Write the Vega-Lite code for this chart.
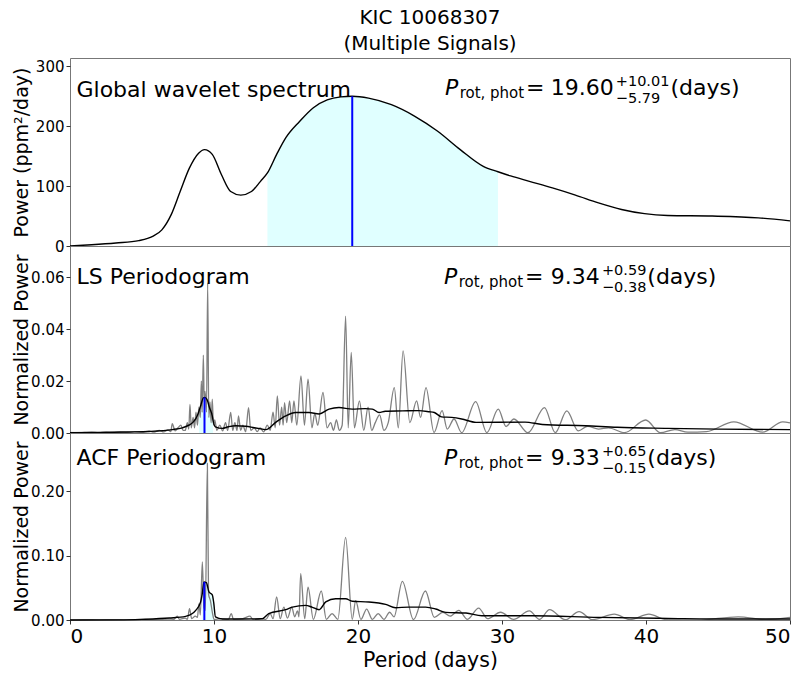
{
  "$schema": "https://vega.github.io/schema/vega-lite/v6.json",
  "padding": {"left": 11, "top": 7, "right": 10, "bottom": 5},
  "background": "white",
  "config": {
    "view": {"stroke": "#777", "strokeWidth": 1},
    "font": "DejaVu Sans",
    "axis": {"labelFont": "DejaVu Sans", "titleFont": "DejaVu Sans", "labelColor": "black", "titleColor": "black", "tickColor": "#333", "domain": false, "grid": false, "titleFontWeight": "normal"},
    "text": {"font": "DejaVu Sans", "color": "black", "align": "left", "baseline": "alphabetic"}
  },
  "datasets": {
    "one": [{}],
    "gws": [
      {"period": 0, "power": 0}, {"period": 1.5, "power": 2}, {"period": 3.19, "power": 5}, {"period": 4.78, "power": 9}, {"period": 5.74, "power": 16},
      {"period": 6.38, "power": 27}, {"period": 7.02, "power": 52}, {"period": 7.65, "power": 91}, {"period": 8.29, "power": 130}, {"period": 8.93, "power": 155},
      {"period": 9.34, "power": 161}, {"period": 9.88, "power": 153}, {"period": 10.52, "power": 119}, {"period": 11.16, "power": 91}, {"period": 11.86, "power": 85},
      {"period": 12.6, "power": 91}, {"period": 13.23, "power": 108}, {"period": 13.71, "power": 122}, {"period": 14.35, "power": 153}, {"period": 14.99, "power": 181},
      {"period": 15.94, "power": 208}, {"period": 16.9, "power": 231}, {"period": 17.86, "power": 244}, {"period": 18.81, "power": 249}, {"period": 19.6, "power": 250},
      {"period": 20.73, "power": 247}, {"period": 22.32, "power": 236}, {"period": 23.92, "power": 217}, {"period": 25.51, "power": 192}, {"period": 27.1, "power": 161},
      {"period": 28.7, "power": 133}, {"period": 29.72, "power": 124}, {"period": 30.6, "power": 117}, {"period": 31.9, "power": 108}, {"period": 33.5, "power": 97},
      {"period": 35.1, "power": 85}, {"period": 36.7, "power": 72}, {"period": 38.3, "power": 61}, {"period": 39.9, "power": 54}, {"period": 41.5, "power": 51},
      {"period": 44.6, "power": 50}, {"period": 47.8, "power": 47}, {"period": 50, "power": 42}
    ],
    "ls_raw": [
      {"period": 0, "power": 0.0002}, {"period": 0.5, "power": 0.0001}, {"period": 1, "power": 0.0002}, {"period": 1.5, "power": 0.0003}, {"period": 2, "power": 0.0001},
      {"period": 2.5, "power": 0.0003}, {"period": 3, "power": 0.0002}, {"period": 3.5, "power": 0.0004}, {"period": 4, "power": 0.0002}, {"period": 4.5, "power": 0.0005},
      {"period": 5, "power": 0.0003}, {"period": 5.5, "power": 0.0007}, {"period": 5.8, "power": 0.0003}, {"period": 6.2, "power": 0.001}, {"period": 6.5, "power": 0.0004},
      {"period": 6.8, "power": 0.0012}, {"period": 7.0, "power": 0.0005}, {"period": 7.1, "power": 0.0036}, {"period": 7.3, "power": 0.0008}, {"period": 7.5, "power": 0.002},
      {"period": 7.7, "power": 0.003}, {"period": 7.85, "power": 0.001}, {"period": 8.0, "power": 0.001}, {"period": 8.15, "power": 0.004}, {"period": 8.25, "power": 0.0015},
      {"period": 8.33, "power": 0.011}, {"period": 8.42, "power": 0.002}, {"period": 8.55, "power": 0.006}, {"period": 8.65, "power": 0.002}, {"period": 8.75, "power": 0.008},
      {"period": 8.85, "power": 0.003}, {"period": 8.95, "power": 0.01}, {"period": 9.05, "power": 0.006}, {"period": 9.12, "power": 0.02}, {"period": 9.18, "power": 0.008},
      {"period": 9.26, "power": 0.03}, {"period": 9.32, "power": 0.012}, {"period": 9.38, "power": 0.016}, {"period": 9.48, "power": 0.008}, {"period": 9.56, "power": 0.0578},
      {"period": 9.64, "power": 0.006}, {"period": 9.72, "power": 0.012}, {"period": 9.8, "power": 0.004}, {"period": 9.88, "power": 0.013}, {"period": 9.96, "power": 0.003},
      {"period": 10.05, "power": 0.005}, {"period": 10.2, "power": 0.001}, {"period": 10.4, "power": 0.003}, {"period": 10.6, "power": 0.0008}, {"period": 10.8, "power": 0.004},
      {"period": 10.95, "power": 0.001}, {"period": 11.16, "power": 0.0079}, {"period": 11.3, "power": 0.001}, {"period": 11.45, "power": 0.004}, {"period": 11.6, "power": 0.001},
      {"period": 11.7, "power": 0.0066}, {"period": 11.85, "power": 0.001}, {"period": 12.0, "power": 0.003}, {"period": 12.2, "power": 0.0005}, {"period": 12.4, "power": 0.0098},
      {"period": 12.55, "power": 0.001}, {"period": 12.8, "power": 0.002}, {"period": 13.0, "power": 0.0005}, {"period": 13.2, "power": 0.002}, {"period": 13.45, "power": 0.0004},
      {"period": 13.7, "power": 0.003}, {"period": 13.9, "power": 0.001}, {"period": 14.1, "power": 0.008}, {"period": 14.25, "power": 0.002}, {"period": 14.4, "power": 0.0143},
      {"period": 14.55, "power": 0.003}, {"period": 14.7, "power": 0.01}, {"period": 14.8, "power": 0.003}, {"period": 14.9, "power": 0.0117}, {"period": 15.05, "power": 0.004},
      {"period": 15.25, "power": 0.0124}, {"period": 15.4, "power": 0.004}, {"period": 15.55, "power": 0.0124}, {"period": 15.75, "power": 0.003}, {"period": 16.04, "power": 0.022},
      {"period": 16.28, "power": 0.003}, {"period": 16.53, "power": 0.0207}, {"period": 16.8, "power": 0.002}, {"period": 17.0, "power": 0.0075}, {"period": 17.2, "power": 0.003},
      {"period": 17.57, "power": 0.0156}, {"period": 17.85, "power": 0.002}, {"period": 18.1, "power": 0.004}, {"period": 18.3, "power": 0.001}, {"period": 18.5, "power": 0.005},
      {"period": 18.7, "power": 0.001}, {"period": 18.9, "power": 0.003}, {"period": 19.14, "power": 0.045}, {"period": 19.32, "power": 0.002}, {"period": 19.53, "power": 0.031},
      {"period": 19.75, "power": 0.002}, {"period": 20.1, "power": 0.0124}, {"period": 20.4, "power": 0.001}, {"period": 20.7, "power": 0.01}, {"period": 20.95, "power": 0.001},
      {"period": 21.2, "power": 0.004}, {"period": 21.5, "power": 0.007}, {"period": 21.8, "power": 0.001}, {"period": 22.1, "power": 0.004}, {"period": 22.52, "power": 0.0175},
      {"period": 22.8, "power": 0.002}, {"period": 23.13, "power": 0.0316}, {"period": 23.6, "power": 0.004}, {"period": 24.07, "power": 0.0124}, {"period": 24.35, "power": 0.006},
      {"period": 24.72, "power": 0.0175}, {"period": 25.28, "power": 0.0002}, {"period": 25.84, "power": 0.0086}, {"period": 26.2, "power": 0.0015}, {"period": 26.67, "power": 0.0054},
      {"period": 27.2, "power": 0.0001}, {"period": 28.17, "power": 0.0121}, {"period": 28.95, "power": 0.0001}, {"period": 29.74, "power": 0.0092}, {"period": 30.28, "power": 0.0025},
      {"period": 30.83, "power": 0.0054}, {"period": 31.8, "power": 0.0001}, {"period": 32.95, "power": 0.0098}, {"period": 33.7, "power": 0.0001}, {"period": 34.5, "power": 0.0085},
      {"period": 35.3, "power": 0.0008}, {"period": 35.95, "power": 0.0026}, {"period": 36.7, "power": 0.0015}, {"period": 37.4, "power": 0.002}, {"period": 38.5, "power": 0.0001},
      {"period": 39.98, "power": 0.005}, {"period": 41.0, "power": 0.0001}, {"period": 42.0, "power": 0.0013}, {"period": 42.9, "power": 0.0003}, {"period": 44.2, "power": 0.0005},
      {"period": 46.1, "power": 0.0043}, {"period": 48.1, "power": 0.0003}, {"period": 49.5, "power": 0.0043}, {"period": 50, "power": 0.0039}
    ],
    "ls_smooth": [
      {"period": 0, "power": 0.0001}, {"period": 2, "power": 0.0002}, {"period": 4, "power": 0.0004}, {"period": 5.5, "power": 0.0006}, {"period": 7.1, "power": 0.0013},
      {"period": 7.8, "power": 0.002}, {"period": 8.26, "power": 0.003}, {"period": 8.6, "power": 0.0045}, {"period": 8.84, "power": 0.0066}, {"period": 8.96, "power": 0.0085},
      {"period": 9.1, "power": 0.011}, {"period": 9.25, "power": 0.0135}, {"period": 9.34, "power": 0.0137}, {"period": 9.5, "power": 0.013}, {"period": 9.7, "power": 0.0095},
      {"period": 9.88, "power": 0.0066}, {"period": 9.93, "power": 0.005}, {"period": 10.1, "power": 0.0024}, {"period": 10.58, "power": 0.0018}, {"period": 11.0, "power": 0.0024},
      {"period": 11.5, "power": 0.0028}, {"period": 12.2, "power": 0.0026}, {"period": 12.8, "power": 0.002}, {"period": 13.36, "power": 0.0015}, {"period": 13.6, "power": 0.0013},
      {"period": 14.28, "power": 0.0041}, {"period": 14.98, "power": 0.0066}, {"period": 15.67, "power": 0.0079}, {"period": 16.6, "power": 0.0079}, {"period": 17.3, "power": 0.0073},
      {"period": 17.99, "power": 0.0092}, {"period": 18.68, "power": 0.0098}, {"period": 19.6, "power": 0.0092}, {"period": 20.5, "power": 0.0094}, {"period": 21.0, "power": 0.0092},
      {"period": 21.46, "power": 0.0079}, {"period": 21.9, "power": 0.0084}, {"period": 23.1, "power": 0.0085}, {"period": 24.2, "power": 0.0086}, {"period": 24.93, "power": 0.0082},
      {"period": 25.3, "power": 0.0079}, {"period": 25.8, "power": 0.0062}, {"period": 26.5, "power": 0.006}, {"period": 27.2, "power": 0.0054}, {"period": 28.2, "power": 0.0041},
      {"period": 31.6, "power": 0.0042}, {"period": 32.8, "power": 0.0033}, {"period": 35.8, "power": 0.0028}, {"period": 38, "power": 0.0022}, {"period": 41.5, "power": 0.0018},
      {"period": 45, "power": 0.0015}, {"period": 50, "power": 0.0013}
    ],
    "acf_raw": [
      {"period": 0, "power": 0.0}, {"period": 1, "power": 0.0005}, {"period": 2, "power": 0.0002}, {"period": 3, "power": 0.0006}, {"period": 4, "power": 0.0003},
      {"period": 5, "power": 0.0008}, {"period": 6, "power": 0.0005}, {"period": 6.8, "power": 0.0015}, {"period": 7.2, "power": 0.001}, {"period": 7.45, "power": 0.006},
      {"period": 7.6, "power": 0.001}, {"period": 8.0, "power": 0.003}, {"period": 8.15, "power": 0.001}, {"period": 8.3, "power": 0.0175}, {"period": 8.45, "power": 0.002},
      {"period": 8.7, "power": 0.006}, {"period": 8.85, "power": 0.004}, {"period": 8.95, "power": 0.025}, {"period": 9.05, "power": 0.008}, {"period": 9.19, "power": 0.09},
      {"period": 9.3, "power": 0.02}, {"period": 9.4, "power": 0.015}, {"period": 9.54, "power": 0.243}, {"period": 9.62, "power": 0.04}, {"period": 9.75, "power": 0.03},
      {"period": 9.9, "power": 0.01}, {"period": 10.0, "power": 0.001}, {"period": 10.5, "power": 0.002}, {"period": 11.0, "power": 0.001}, {"period": 11.2, "power": 0.01},
      {"period": 11.35, "power": 0.001}, {"period": 12.0, "power": 0.002}, {"period": 12.5, "power": 0.006}, {"period": 12.7, "power": 0.001}, {"period": 13.3, "power": 0.002},
      {"period": 13.6, "power": 0.001}, {"period": 13.9, "power": 0.01}, {"period": 14.1, "power": 0.002}, {"period": 14.35, "power": 0.0357}, {"period": 14.6, "power": 0.002},
      {"period": 14.85, "power": 0.02}, {"period": 15.1, "power": 0.003}, {"period": 15.4, "power": 0.02}, {"period": 15.6, "power": 0.005}, {"period": 15.8, "power": 0.014},
      {"period": 15.9, "power": 0.005}, {"period": 16.02, "power": 0.072}, {"period": 16.3, "power": 0.002}, {"period": 16.53, "power": 0.051}, {"period": 16.9, "power": 0.001},
      {"period": 17.45, "power": 0.045}, {"period": 17.8, "power": 0.001}, {"period": 18.2, "power": 0.01}, {"period": 18.6, "power": 0.001}, {"period": 19.14, "power": 0.128},
      {"period": 19.6, "power": 0.001}, {"period": 19.84, "power": 0.03}, {"period": 20.2, "power": 0.001}, {"period": 20.6, "power": 0.017}, {"period": 21.0, "power": 0.001},
      {"period": 21.4, "power": 0.01}, {"period": 21.8, "power": 0.001}, {"period": 22.2, "power": 0.012}, {"period": 22.5, "power": 0.005}, {"period": 23.08, "power": 0.06},
      {"period": 23.85, "power": 0.0005}, {"period": 24.68, "power": 0.045}, {"period": 25.3, "power": 0.004}, {"period": 25.9, "power": 0.012}, {"period": 26.4, "power": 0.006},
      {"period": 27.0, "power": 0.015}, {"period": 27.6, "power": 0.001}, {"period": 28.38, "power": 0.0185}, {"period": 29.0, "power": 0.002}, {"period": 29.9, "power": 0.012},
      {"period": 30.8, "power": 0.001}, {"period": 31.9, "power": 0.014}, {"period": 32.6, "power": 0.001}, {"period": 33.3, "power": 0.016}, {"period": 34.4, "power": 0.0005},
      {"period": 35.35, "power": 0.013}, {"period": 36.3, "power": 0.0005}, {"period": 37.8, "power": 0.009}, {"period": 38.9, "power": 0.0005}, {"period": 40.2, "power": 0.009},
      {"period": 41.4, "power": 0.0005}, {"period": 43.6, "power": 0.0}, {"period": 46.4, "power": 0.005}, {"period": 48.3, "power": 0.0005}, {"period": 50, "power": 0.004}
    ],
    "acf_smooth": [
      {"period": 0, "power": 0}, {"period": 3.4, "power": 0.0002}, {"period": 5, "power": 0.001}, {"period": 6.9, "power": 0.003}, {"period": 8.03, "power": 0.0056},
      {"period": 8.5, "power": 0.01}, {"period": 8.73, "power": 0.015}, {"period": 9.07, "power": 0.028}, {"period": 9.18, "power": 0.04}, {"period": 9.3, "power": 0.059},
      {"period": 9.47, "power": 0.058}, {"period": 9.65, "power": 0.0435}, {"period": 9.88, "power": 0.039}, {"period": 9.98, "power": 0.027}, {"period": 10.1, "power": 0.0047},
      {"period": 10.58, "power": 0.0015}, {"period": 12, "power": 0.0015}, {"period": 13.36, "power": 0.002}, {"period": 13.8, "power": 0.0098}, {"period": 14.98, "power": 0.016},
      {"period": 15.44, "power": 0.02}, {"period": 16.37, "power": 0.0227}, {"period": 16.8, "power": 0.02}, {"period": 17.3, "power": 0.016}, {"period": 17.76, "power": 0.028},
      {"period": 18.45, "power": 0.033}, {"period": 19.14, "power": 0.033}, {"period": 19.6, "power": 0.029}, {"period": 20.76, "power": 0.028}, {"period": 21.92, "power": 0.0243},
      {"period": 22.6, "power": 0.019}, {"period": 23.5, "power": 0.02}, {"period": 24.7, "power": 0.02}, {"period": 25.4, "power": 0.017}, {"period": 26.1, "power": 0.0118},
      {"period": 27.5, "power": 0.0108}, {"period": 28.6, "power": 0.0067}, {"period": 32.1, "power": 0.0067}, {"period": 36.7, "power": 0.004}, {"period": 41.5, "power": 0.0025},
      {"period": 46.1, "power": 0.0015}, {"period": 50, "power": 0.0015}
    ]
  },
  "vconcat": [
    {
      "width": 720, "height": 188,
      "title": {"text": ["KIC 10068307", "(Multiple Signals)"], "fontSize": 20, "font": "DejaVu Sans", "fontWeight": "normal", "color": "black", "anchor": "middle", "offset": 4, "lineHeight": 26},
      "layer": [
        {
          "data": {"name": "gws"},
          "transform": [{"filter": "datum.period >= 13.71 && datum.period <= 29.72"}],
          "mark": {"type": "area", "color": "#E0FFFF", "opacity": 1},
          "encoding": {
            "x": {"field": "period", "type": "quantitative", "scale": {"domain": [0, 50], "nice": false}, "axis": null},
            "y": {"field": "power", "type": "quantitative", "scale": {"domain": [0, 314], "nice": false}, "axis": {"title": "Power (ppm²/day)", "values": [0, 100, 200, 300], "labelFontSize": 15, "titleFontSize": 19, "tickSize": 4, "titleX": -43, "titleBaseline": "alphabetic"}}
          }
        },
        {
          "data": {"name": "gws"},
          "mark": {"type": "line", "color": "black", "strokeWidth": 1.4, "interpolate": "monotone"},
          "encoding": {"x": {"field": "period", "type": "quantitative"}, "y": {"field": "power", "type": "quantitative"}}
        },
        {
          "data": {"values": [{"period": 19.6, "base": 0, "power": 250}]},
          "mark": {"type": "rule", "color": "#0000FF", "strokeWidth": 2},
          "encoding": {"x": {"field": "period", "type": "quantitative"}, "y": {"field": "base", "type": "quantitative"}, "y2": {"field": "power"}}
        },
        {"data": {"name": "one"}, "mark": {"type": "text", "fontSize": 22}, "encoding": {"x": {"datum": 0.45, "type": "quantitative"}, "y": {"datum": 249, "type": "quantitative"}, "text": {"value": "Global wavelet spectrum"}}},
        {"data": {"name": "one"}, "mark": {"type": "text", "fontSize": 22, "fontStyle": "italic"}, "encoding": {"x": {"datum": 26.04, "type": "quantitative"}, "y": {"datum": 252, "type": "quantitative"}, "text": {"value": "P"}}},
        {"data": {"name": "one"}, "mark": {"type": "text", "fontSize": 15, "dy": 3}, "encoding": {"x": {"datum": 27.06, "type": "quantitative"}, "y": {"datum": 252, "type": "quantitative"}, "text": {"value": "rot, phot"}}},
        {"data": {"name": "one"}, "mark": {"type": "text", "fontSize": 22}, "encoding": {"x": {"datum": 31.67, "type": "quantitative"}, "y": {"datum": 252, "type": "quantitative"}, "text": {"value": "="}}},
        {"data": {"name": "one"}, "mark": {"type": "text", "fontSize": 22}, "encoding": {"x": {"datum": 33.38, "type": "quantitative"}, "y": {"datum": 252, "type": "quantitative"}, "text": {"value": "19.60"}}},
        {"data": {"name": "one"}, "mark": {"type": "text", "fontSize": 14.5, "dy": -9.3}, "encoding": {"x": {"datum": 37.9, "type": "quantitative"}, "y": {"datum": 252, "type": "quantitative"}, "text": {"value": "+10.01"}}},
        {"data": {"name": "one"}, "mark": {"type": "text", "fontSize": 14.5, "dy": 7.4}, "encoding": {"x": {"datum": 37.9, "type": "quantitative"}, "y": {"datum": 252, "type": "quantitative"}, "text": {"value": "−5.79"}}},
        {"data": {"name": "one"}, "mark": {"type": "text", "fontSize": 22}, "encoding": {"x": {"datum": 41.7, "type": "quantitative"}, "y": {"datum": 252, "type": "quantitative"}, "text": {"value": "(days)"}}}
      ]
    },
    {
      "width": 720, "height": 187,
      "layer": [
        {
          "data": {"name": "ls_smooth"},
          "transform": [{"filter": "datum.period >= 8.96 && datum.period <= 9.93"}],
          "mark": {"type": "area", "color": "#E0FFFF", "opacity": 1},
          "encoding": {
            "x": {"field": "period", "type": "quantitative", "scale": {"domain": [0, 50], "nice": false}, "axis": null},
            "y": {"field": "power", "type": "quantitative", "scale": {"domain": [0, 0.072], "nice": false}, "axis": {"title": "Normalized Power", "values": [0, 0.02, 0.04, 0.06], "format": ".2f", "labelFontSize": 15, "titleFontSize": 19, "tickSize": 4, "titleX": -43, "titleBaseline": "alphabetic"}}
          }
        },
        {
          "data": {"name": "ls_raw"},
          "mark": {"type": "line", "color": "#808080", "strokeWidth": 1.3, "interpolate": "monotone"},
          "encoding": {"x": {"field": "period", "type": "quantitative"}, "y": {"field": "power", "type": "quantitative"}}
        },
        {
          "data": {"name": "ls_smooth"},
          "mark": {"type": "line", "color": "black", "strokeWidth": 1.4, "interpolate": "monotone"},
          "encoding": {"x": {"field": "period", "type": "quantitative"}, "y": {"field": "power", "type": "quantitative"}}
        },
        {
          "data": {"values": [{"period": 9.34, "base": 0, "power": 0.0137}]},
          "mark": {"type": "rule", "color": "#0000FF", "strokeWidth": 2},
          "encoding": {"x": {"field": "period", "type": "quantitative"}, "y": {"field": "base", "type": "quantitative"}, "y2": {"field": "power"}}
        },
        {"data": {"name": "one"}, "mark": {"type": "text", "fontSize": 22}, "encoding": {"x": {"datum": 0.45, "type": "quantitative"}, "y": {"datum": 0.0574, "type": "quantitative"}, "text": {"value": "LS Periodogram"}}},
        {"data": {"name": "one"}, "mark": {"type": "text", "fontSize": 22, "fontStyle": "italic"}, "encoding": {"x": {"datum": 25.97, "type": "quantitative"}, "y": {"datum": 0.0572, "type": "quantitative"}, "text": {"value": "P"}}},
        {"data": {"name": "one"}, "mark": {"type": "text", "fontSize": 15, "dy": 3}, "encoding": {"x": {"datum": 26.99, "type": "quantitative"}, "y": {"datum": 0.0572, "type": "quantitative"}, "text": {"value": "rot, phot"}}},
        {"data": {"name": "one"}, "mark": {"type": "text", "fontSize": 22}, "encoding": {"x": {"datum": 31.6, "type": "quantitative"}, "y": {"datum": 0.0572, "type": "quantitative"}, "text": {"value": "="}}},
        {"data": {"name": "one"}, "mark": {"type": "text", "fontSize": 22}, "encoding": {"x": {"datum": 33.38, "type": "quantitative"}, "y": {"datum": 0.0572, "type": "quantitative"}, "text": {"value": "9.34"}}},
        {"data": {"name": "one"}, "mark": {"type": "text", "fontSize": 14.5, "dy": -9.3}, "encoding": {"x": {"datum": 36.94, "type": "quantitative"}, "y": {"datum": 0.0572, "type": "quantitative"}, "text": {"value": "+0.59"}}},
        {"data": {"name": "one"}, "mark": {"type": "text", "fontSize": 14.5, "dy": 7.4}, "encoding": {"x": {"datum": 36.94, "type": "quantitative"}, "y": {"datum": 0.0572, "type": "quantitative"}, "text": {"value": "−0.38"}}},
        {"data": {"name": "one"}, "mark": {"type": "text", "fontSize": 22}, "encoding": {"x": {"datum": 40.09, "type": "quantitative"}, "y": {"datum": 0.0572, "type": "quantitative"}, "text": {"value": "(days)"}}}
      ]
    },
    {
      "width": 720, "height": 187,
      "layer": [
        {
          "data": {"name": "acf_smooth"},
          "transform": [{"filter": "datum.period >= 9.18 && datum.period <= 9.98"}],
          "mark": {"type": "area", "color": "#E0FFFF", "opacity": 1},
          "encoding": {
            "x": {"field": "period", "type": "quantitative", "scale": {"domain": [0, 50], "nice": false}, "axis": {"title": "Period (days)", "values": [0, 10, 20, 30, 40, 50], "labelFontSize": 20, "titleFontSize": 20.5, "tickSize": 4, "labelPadding": 2, "titlePadding": 4}},
            "y": {"field": "power", "type": "quantitative", "scale": {"domain": [0, 0.29], "nice": false}, "axis": {"title": "Normalized Power", "values": [0, 0.1, 0.2], "format": ".2f", "labelFontSize": 15, "titleFontSize": 19, "tickSize": 4, "titleX": -43, "titleBaseline": "alphabetic"}}
          }
        },
        {
          "data": {"name": "acf_raw"},
          "mark": {"type": "line", "color": "#808080", "strokeWidth": 1.3, "interpolate": "monotone"},
          "encoding": {"x": {"field": "period", "type": "quantitative"}, "y": {"field": "power", "type": "quantitative"}}
        },
        {
          "data": {"name": "acf_smooth"},
          "mark": {"type": "line", "color": "black", "strokeWidth": 1.4, "interpolate": "monotone"},
          "encoding": {"x": {"field": "period", "type": "quantitative"}, "y": {"field": "power", "type": "quantitative"}}
        },
        {
          "data": {"values": [{"period": 9.33, "base": 0, "power": 0.059}]},
          "mark": {"type": "rule", "color": "#0000FF", "strokeWidth": 2},
          "encoding": {"x": {"field": "period", "type": "quantitative"}, "y": {"field": "base", "type": "quantitative"}, "y2": {"field": "power"}}
        },
        {"data": {"name": "one"}, "mark": {"type": "text", "fontSize": 22}, "encoding": {"x": {"datum": 0.45, "type": "quantitative"}, "y": {"datum": 0.241, "type": "quantitative"}, "text": {"value": "ACF Periodogram"}}},
        {"data": {"name": "one"}, "mark": {"type": "text", "fontSize": 22, "fontStyle": "italic"}, "encoding": {"x": {"datum": 25.97, "type": "quantitative"}, "y": {"datum": 0.24, "type": "quantitative"}, "text": {"value": "P"}}},
        {"data": {"name": "one"}, "mark": {"type": "text", "fontSize": 15, "dy": 3}, "encoding": {"x": {"datum": 26.99, "type": "quantitative"}, "y": {"datum": 0.24, "type": "quantitative"}, "text": {"value": "rot, phot"}}},
        {"data": {"name": "one"}, "mark": {"type": "text", "fontSize": 22}, "encoding": {"x": {"datum": 31.6, "type": "quantitative"}, "y": {"datum": 0.24, "type": "quantitative"}, "text": {"value": "="}}},
        {"data": {"name": "one"}, "mark": {"type": "text", "fontSize": 22}, "encoding": {"x": {"datum": 33.38, "type": "quantitative"}, "y": {"datum": 0.24, "type": "quantitative"}, "text": {"value": "9.33"}}},
        {"data": {"name": "one"}, "mark": {"type": "text", "fontSize": 14.5, "dy": -9.3}, "encoding": {"x": {"datum": 36.94, "type": "quantitative"}, "y": {"datum": 0.24, "type": "quantitative"}, "text": {"value": "+0.65"}}},
        {"data": {"name": "one"}, "mark": {"type": "text", "fontSize": 14.5, "dy": 7.4}, "encoding": {"x": {"datum": 36.94, "type": "quantitative"}, "y": {"datum": 0.24, "type": "quantitative"}, "text": {"value": "−0.15"}}},
        {"data": {"name": "one"}, "mark": {"type": "text", "fontSize": 22}, "encoding": {"x": {"datum": 40.09, "type": "quantitative"}, "y": {"datum": 0.24, "type": "quantitative"}, "text": {"value": "(days)"}}}
      ]
    }
  ],
  "spacing": 0,
  "bounds": "flush"
}
